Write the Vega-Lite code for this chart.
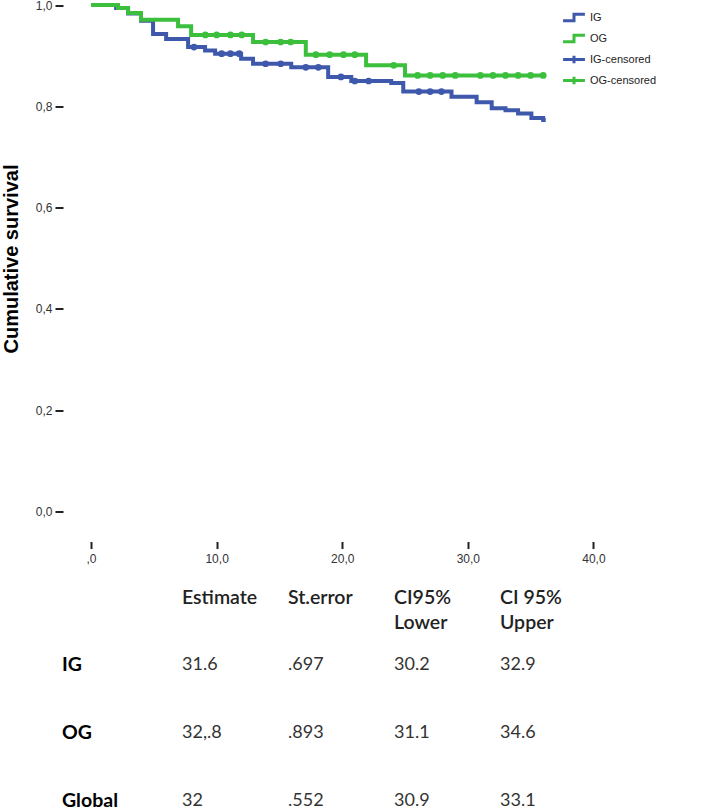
{
  "$schema": "https://vega.github.io/schema/vega-lite/v6.json",
  "background": "white",
  "padding": {"left": 1, "top": -3.5, "right": 0, "bottom": 0},
  "config": {"view": {"stroke": null}, "font": "Liberation Sans"},
  "datasets": {
    "km": [
      {"series": "IG", "t": 0, "s": 1.0},
      {"series": "IG", "t": 2.0, "s": 0.994},
      {"series": "IG", "t": 2.95, "s": 0.983},
      {"series": "IG", "t": 3.98, "s": 0.969},
      {"series": "IG", "t": 4.94, "s": 0.943},
      {"series": "IG", "t": 5.98, "s": 0.933},
      {"series": "IG", "t": 7.73, "s": 0.917},
      {"series": "IG", "t": 9.08, "s": 0.910},
      {"series": "IG", "t": 9.88, "s": 0.904},
      {"series": "IG", "t": 11.95, "s": 0.894},
      {"series": "IG", "t": 12.9, "s": 0.884},
      {"series": "IG", "t": 15.94, "s": 0.877},
      {"series": "IG", "t": 18.88, "s": 0.858},
      {"series": "IG", "t": 20.72, "s": 0.850},
      {"series": "IG", "t": 23.9, "s": 0.846},
      {"series": "IG", "t": 24.86, "s": 0.829},
      {"series": "IG", "t": 28.7, "s": 0.819},
      {"series": "IG", "t": 30.7, "s": 0.808},
      {"series": "IG", "t": 31.9, "s": 0.796},
      {"series": "IG", "t": 33.0, "s": 0.792},
      {"series": "IG", "t": 34.0, "s": 0.786},
      {"series": "IG", "t": 35.06, "s": 0.777},
      {"series": "IG", "t": 36.0, "s": 0.773},
      {"series": "IG", "t": 36.2, "s": 0.773},
      {"series": "OG", "t": 0, "s": 1.0},
      {"series": "OG", "t": 2.15, "s": 0.994},
      {"series": "OG", "t": 2.95, "s": 0.984},
      {"series": "OG", "t": 3.98, "s": 0.971},
      {"series": "OG", "t": 6.93, "s": 0.958},
      {"series": "OG", "t": 7.97, "s": 0.941},
      {"series": "OG", "t": 12.9, "s": 0.927},
      {"series": "OG", "t": 17.1, "s": 0.902},
      {"series": "OG", "t": 21.9, "s": 0.881},
      {"series": "OG", "t": 25.0, "s": 0.861},
      {"series": "OG", "t": 36.0, "s": 0.861}
    ],
    "cens": [
      {"series": "IG-censored", "t": 8.2, "s": 0.917},
      {"series": "IG-censored", "t": 10.4, "s": 0.904},
      {"series": "IG-censored", "t": 11.1, "s": 0.904},
      {"series": "IG-censored", "t": 11.8, "s": 0.904},
      {"series": "IG-censored", "t": 13.9, "s": 0.884},
      {"series": "IG-censored", "t": 15.1, "s": 0.884},
      {"series": "IG-censored", "t": 17.1, "s": 0.877},
      {"series": "IG-censored", "t": 18.1, "s": 0.877},
      {"series": "IG-censored", "t": 19.9, "s": 0.858},
      {"series": "IG-censored", "t": 21.0, "s": 0.850},
      {"series": "IG-censored", "t": 22.1, "s": 0.850},
      {"series": "IG-censored", "t": 26.1, "s": 0.829},
      {"series": "IG-censored", "t": 27.0, "s": 0.829},
      {"series": "IG-censored", "t": 27.9, "s": 0.829},
      {"series": "OG-censored", "t": 9.1, "s": 0.941},
      {"series": "OG-censored", "t": 10.0, "s": 0.941},
      {"series": "OG-censored", "t": 11.1, "s": 0.941},
      {"series": "OG-censored", "t": 12.0, "s": 0.941},
      {"series": "OG-censored", "t": 13.9, "s": 0.927},
      {"series": "OG-censored", "t": 15.1, "s": 0.927},
      {"series": "OG-censored", "t": 15.9, "s": 0.927},
      {"series": "OG-censored", "t": 17.9, "s": 0.902},
      {"series": "OG-censored", "t": 19.0, "s": 0.902},
      {"series": "OG-censored", "t": 20.1, "s": 0.902},
      {"series": "OG-censored", "t": 21.0, "s": 0.902},
      {"series": "OG-censored", "t": 24.1, "s": 0.881},
      {"series": "OG-censored", "t": 26.0, "s": 0.861},
      {"series": "OG-censored", "t": 27.0, "s": 0.861},
      {"series": "OG-censored", "t": 28.0, "s": 0.861},
      {"series": "OG-censored", "t": 29.0, "s": 0.861},
      {"series": "OG-censored", "t": 31.0, "s": 0.861},
      {"series": "OG-censored", "t": 32.0, "s": 0.861},
      {"series": "OG-censored", "t": 33.0, "s": 0.861},
      {"series": "OG-censored", "t": 34.0, "s": 0.861},
      {"series": "OG-censored", "t": 35.0, "s": 0.861},
      {"series": "OG-censored", "t": 36.0, "s": 0.861}
    ],
    "legendrows": [
      {"series": "IG"},
      {"series": "OG"},
      {"series": "IG-censored"},
      {"series": "OG-censored"}
    ],
    "table": [
      {"kind": "header", "row": "head", "col": "Estimate", "label": "Estimate"},
      {"kind": "header", "row": "head", "col": "St.error", "label": "St.error"},
      {"kind": "header", "row": "head", "col": "Lower", "label": "CI95%\nLower"},
      {"kind": "header", "row": "head", "col": "Upper", "label": "CI 95%\nUpper"},
      {"kind": "rowlab", "row": "IG", "col": "label", "label": "IG"},
      {"kind": "rowlab", "row": "OG", "col": "label", "label": "OG"},
      {"kind": "rowlab", "row": "Global", "col": "label", "label": "Global"},
      {"kind": "val", "row": "IG", "col": "Estimate", "label": "31.6"},
      {"kind": "val", "row": "IG", "col": "St.error", "label": ".697"},
      {"kind": "val", "row": "IG", "col": "Lower", "label": "30.2"},
      {"kind": "val", "row": "IG", "col": "Upper", "label": "32.9"},
      {"kind": "val", "row": "OG", "col": "Estimate", "label": "32,.8"},
      {"kind": "val", "row": "OG", "col": "St.error", "label": ".893"},
      {"kind": "val", "row": "OG", "col": "Lower", "label": "31.1"},
      {"kind": "val", "row": "OG", "col": "Upper", "label": "34.6"},
      {"kind": "val", "row": "Global", "col": "Estimate", "label": "32"},
      {"kind": "val", "row": "Global", "col": "St.error", "label": ".552"},
      {"kind": "val", "row": "Global", "col": "Lower", "label": "30.9"},
      {"kind": "val", "row": "Global", "col": "Upper", "label": "33.1"}
    ]
  },
  "spacing": 23,
  "vconcat": [
    {
      "width": 543,
      "height": 541,
      "encoding": {
        "x": {
          "field": "t", "type": "quantitative",
          "scale": {"domain": [-2.23, 41], "nice": false, "zero": false},
          "axis": {
            "values": [0, 10, 20, 30, 40],
            "labelExpr": "datum.value == 0 ? ',0' : replace(format(datum.value, '.1f'), '.', ',')",
            "title": null, "domain": false, "grid": false,
            "tickSize": 7, "tickWidth": 2, "tickColor": "#222",
            "labelFont": "Liberation Sans", "labelFontSize": 12, "labelColor": "#333",
            "labelPadding": 5, "labelFlush": false
          }
        },
        "y": {
          "field": "s", "type": "quantitative",
          "scale": {"domain": [-0.0592, 1.0089], "nice": false, "zero": false},
          "axis": {
            "values": [0, 0.2, 0.4, 0.6, 0.8, 1.0],
            "labelExpr": "replace(format(datum.value, '.1f'), '.', ',')",
            "title": "Cumulative survival",
            "titleFont": "Liberation Sans", "titleFontSize": 20, "titleFontWeight": "bold", "titleColor": "#000",
            "titlePadding": 14, "titleY": 258,
            "domain": false, "grid": false,
            "tickSize": 8, "tickWidth": 2, "tickColor": "#222",
            "labelFont": "Liberation Sans", "labelFontSize": 12, "labelColor": "#333",
            "labelPadding": 3, "labelFlush": false
          }
        }
      },
      "layer": [
        {
          "data": {"name": "km"},
          "mark": {"type": "line", "interpolate": "step-after", "strokeWidth": 4},
          "encoding": {
            "stroke": {
              "field": "series", "type": "nominal",
              "scale": {"domain": ["IG", "OG"], "range": ["#3E58AC", "#3CBF3C"]},
              "legend": null
            }
          }
        },
        {
          "data": {"name": "cens"},
          "mark": {"type": "point", "filled": true, "size": 45, "opacity": 1, "shape": "circle"},
          "encoding": {
            "fill": {
              "field": "series", "type": "nominal",
              "scale": {"domain": ["IG-censored", "OG-censored"], "range": ["#3E58AC", "#3CBF3C"]},
              "legend": null
            }
          }
        },
        {
          "data": {"name": "legendrows"},
          "transform": [{"filter": "datum.series == 'none'"}],
          "mark": {"type": "point", "filled": false, "strokeWidth": 3, "opacity": 1},
          "encoding": {
            "x": {"datum": 0},
            "y": {"datum": 0},
            "color": {
              "field": "series", "type": "nominal",
              "scale": {"domain": ["IG", "OG", "IG-censored", "OG-censored"], "range": ["#3E58AC", "#3CBF3C", "#3E58AC", "#3CBF3C"]},
              "legend": {"title": null, "orient": "none", "legendX": 500, "legendY": 6, "symbolSize": 361, "symbolStrokeWidth": 3, "labelFont": "Liberation Sans", "labelFontSize": 11, "labelColor": "#222", "rowPadding": 0, "labelOffset": 5}
            },
            "shape": {
              "field": "series", "type": "nominal",
              "scale": {"domain": ["IG", "OG", "IG-censored", "OG-censored"], "range": ["M-1.15,0.35L0,0.35L0,-0.35L1.15,-0.35", "M-1.15,0.35L0,0.35L0,-0.35L1.15,-0.35", "M-1.15,0L1.15,0M0,-0.4L0,0.4", "M-1.15,0L1.15,0M0,-0.4L0,0.4"]},
              "legend": {"title": null, "orient": "none", "legendX": 500, "legendY": 6, "symbolSize": 361, "symbolStrokeWidth": 3, "labelFont": "Liberation Sans", "labelFontSize": 11, "labelColor": "#222", "rowPadding": 0, "labelOffset": 5}
            }
          }
        }
      ]
    },
    {
      "width": 562,
      "height": 203,
      "data": {"name": "table"},
      "encoding": {
        "x": {"field": "col", "type": "nominal", "scale": {"type": "point", "domain": ["label", "Estimate", "St.error", "Lower", "Upper"], "range": [13, 437], "padding": 0}, "axis": null},
        "y": {"field": "row", "type": "nominal", "scale": {"type": "point", "domain": ["head", "IG", "OG", "Global"], "range": [0, 203], "padding": 0}, "axis": null},
        "text": {"field": "label", "type": "nominal"}
      },
      "layer": [
        {
          "transform": [{"filter": "datum.kind == 'header'"}],
          "mark": {"type": "text", "align": "left", "baseline": "top", "font": "Lato", "fontSize": 19.5, "fontWeight": 600, "color": "#222", "lineBreak": "\n", "lineHeight": 25}
        },
        {
          "transform": [{"filter": "datum.kind == 'rowlab'"}],
          "mark": {"type": "text", "align": "left", "baseline": "top", "dx": -14, "font": "Lato", "fontSize": 19.5, "fontWeight": "bold", "color": "#000"}
        },
        {
          "transform": [{"filter": "datum.kind == 'val'"}],
          "mark": {"type": "text", "align": "left", "baseline": "top", "font": "Lato", "fontSize": 18, "color": "#333"}
        }
      ]
    }
  ]
}
